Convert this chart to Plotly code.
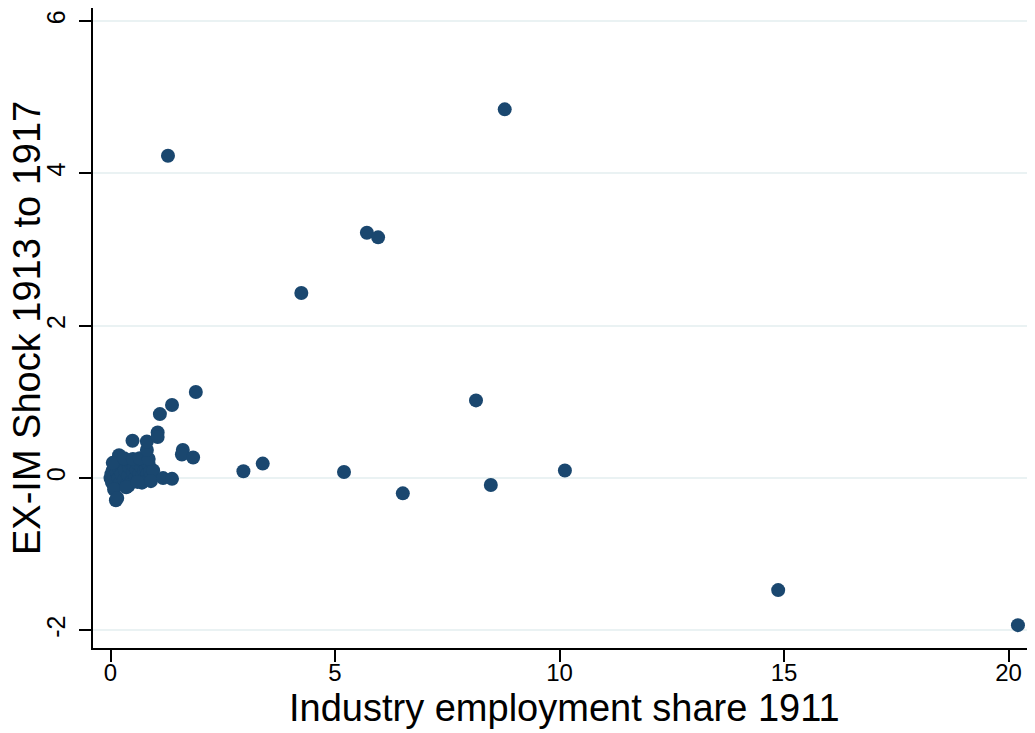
import plotly.graph_objects as go

# industry employment share 1911 (x) vs EX-IM shock 1913-1917 (y)
emp_share = [
    0.00, 0.02, 0.03, 0.05, 0.06, 0.08, 0.10, 0.12, 0.14, 0.15, 0.19, 0.18, 0.20, 0.22,
    0.25, 0.27, 0.30, 0.32, 0.35, 0.37, 0.40, 0.42, 0.45, 0.47, 0.50, 0.52, 0.55, 0.58,
    0.60, 0.62, 0.65, 0.68, 0.70, 0.72, 0.75, 0.78, 0.80, 0.82, 0.85, 0.88, 0.90, 0.95,
    0.05, 0.08, 0.30, 0.50, 0.65, 0.85, 0.40, 0.70, 0.90,
    0.12, 0.15, 0.35, 0.60,
    0.81, 0.81, 0.49, 1.05, 1.05, 1.10, 1.37, 1.90, 1.61, 1.59, 1.84, 1.17, 1.37,
    2.96, 3.39, 5.20, 6.51, 8.47, 10.12, 8.14, 14.87, 20.21,
    4.25, 5.71, 5.96, 1.28, 8.78,
]
shock = [
    0.00, 0.05, -0.05, 0.10, -0.08, 0.02, 0.15, -0.03, 0.08, 0.22, 0.30, 0.00, 0.12, -0.06,
    0.05, 0.18, -0.02, 0.10, 0.22, -0.08, 0.03, 0.14, 0.20, -0.04, 0.08, 0.16, 0.00, 0.11,
    0.20, -0.03, 0.06, 0.15, 0.02, 0.22, 0.09, 0.00, 0.13, 0.05, 0.18, 0.08, 0.02, 0.10,
    0.20, -0.15, 0.26, 0.25, 0.26, 0.25, -0.10, -0.06, -0.04,
    -0.29, -0.26, -0.12, -0.05,
    0.37, 0.48, 0.49, 0.60, 0.54, 0.84, 0.96, 1.13, 0.37, 0.31, 0.27, 0.00, -0.01,
    0.09, 0.19, 0.08, -0.20, -0.09, 0.10, 1.02, -1.47, -1.93,
    2.43, 3.22, 3.16, 4.23, 4.84,
]
x_ticks = [0, 5, 10, 15, 20]
y_ticks = [-2, 0, 2, 4, 6]
y_tick_labels = ['-2', '0', '2', '4', '6']

navy = '#1a476f'
font = 'Liberation Sans, Arial, sans-serif'

fig = go.Figure()
fig.add_trace(go.Scatter(
    x=emp_share, y=shock, mode='markers',
    marker=dict(color=navy, size=14, line=dict(width=0)),
    showlegend=False,
))
# page body keeps its 8px default margin, so the figure is 8px smaller
fig.update_layout(
    width=1027, height=725,
    margin=dict(l=85, r=0, t=0, b=85),
    paper_bgcolor='white', plot_bgcolor='white',
    font=dict(family=font, color='black'),
)
fig.update_xaxes(
    range=[-0.39, 20.59], tickvals=x_ticks, automargin=False,
    showgrid=False, zeroline=False,
    showline=True, linecolor='black', linewidth=1.5,
    ticks='outside', ticklen=12, tickwidth=1.5, tickcolor='black',
    tickfont=dict(size=24), ticklabelstandoff=-10,
)
fig.update_yaxes(
    range=[-2.23, 6.17], tickvals=y_ticks, ticktext=y_tick_labels, automargin=False,
    showgrid=True, gridcolor='#eaf2f3', gridwidth=2, zeroline=False,
    showline=True, linecolor='black', linewidth=1.5,
    ticks='outside', ticklen=12, tickwidth=1.5, tickcolor='black',
    tickangle=-90, tickfont=dict(size=25), ticklabelstandoff=4,
)
# axis titles placed by hand so the margins stay fixed
fig.add_annotation(
    text='Industry employment share 1911', xref='paper', yref='paper',
    x=0.5, y=0, yshift=-60, xanchor='center', yanchor='middle',
    showarrow=False, font=dict(size=38),
)
fig.add_annotation(
    text='EX-IM Shock 1913 to 1917', xref='paper', yref='paper',
    x=0, y=0.5, xshift=-66, xanchor='center', yanchor='middle', textangle=-90,
    showarrow=False, font=dict(size=38),
)

fig.write_html("out.html")
